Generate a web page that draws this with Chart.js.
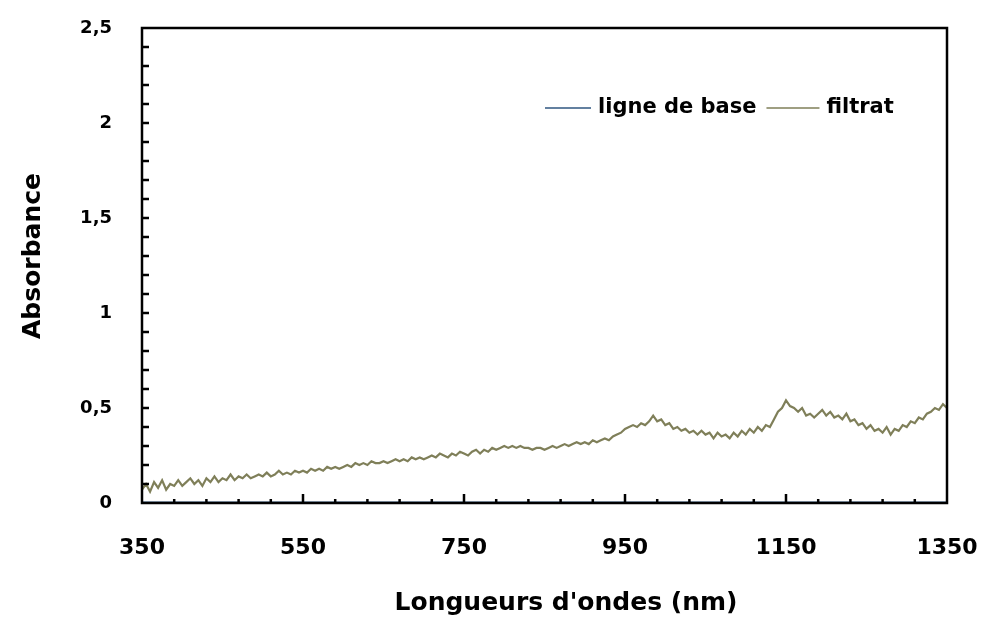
<!DOCTYPE html>
<html>
<head>
<meta charset="utf-8">
<script src="https://cdn.jsdelivr.net/npm/chart.js@4.4.1/dist/chart.umd.min.js"></script>
<style>
  html, body { margin: 0; padding: 0; background: #fff; }
  #wrap { position: relative; width: 982px; height: 617px; }
</style>
</head>
<body>
<div id="wrap"><canvas id="chart"></canvas></div>
<script>
// filtrat: absorbance every 5 nm from 350 to 1350 nm
const filtratStart = 350;
const filtratStep = 5;
const filtratValues = [
  0.07, 0.10, 0.06, 0.11, 0.08, 0.12, 0.07, 0.10, 0.09, 0.12,
  0.09, 0.11, 0.13, 0.10, 0.12, 0.09, 0.13, 0.11, 0.14, 0.11,
  0.13, 0.12, 0.15, 0.12, 0.14, 0.13, 0.15, 0.13, 0.14, 0.15,
  0.14, 0.16, 0.14, 0.15, 0.17, 0.15, 0.16, 0.15, 0.17, 0.16,
  0.17, 0.16, 0.18, 0.17, 0.18, 0.17, 0.19, 0.18, 0.19, 0.18,
  0.19, 0.20, 0.19, 0.21, 0.20, 0.21, 0.20, 0.22, 0.21, 0.21,
  0.22, 0.21, 0.22, 0.23, 0.22, 0.23, 0.22, 0.24, 0.23, 0.24,
  0.23, 0.24, 0.25, 0.24, 0.26, 0.25, 0.24, 0.26, 0.25, 0.27,
  0.26, 0.25, 0.27, 0.28, 0.26, 0.28, 0.27, 0.29, 0.28, 0.29,
  0.30, 0.29, 0.30, 0.29, 0.30, 0.29, 0.29, 0.28, 0.29, 0.29,
  0.28, 0.29, 0.30, 0.29, 0.30, 0.31, 0.30, 0.31, 0.32, 0.31,
  0.32, 0.31, 0.33, 0.32, 0.33, 0.34, 0.33, 0.35, 0.36, 0.37,
  0.39, 0.40, 0.41, 0.40, 0.42, 0.41, 0.43, 0.46, 0.43, 0.44,
  0.41, 0.42, 0.39, 0.40, 0.38, 0.39, 0.37, 0.38, 0.36, 0.38,
  0.36, 0.37, 0.34, 0.37, 0.35, 0.36, 0.34, 0.37, 0.35, 0.38,
  0.36, 0.39, 0.37, 0.40, 0.38, 0.41, 0.40, 0.44, 0.48, 0.50,
  0.54, 0.51, 0.50, 0.48, 0.50, 0.46, 0.47, 0.45, 0.47, 0.49,
  0.46, 0.48, 0.45, 0.46, 0.44, 0.47, 0.43, 0.44, 0.41, 0.42,
  0.39, 0.41, 0.38, 0.39, 0.37, 0.40, 0.36, 0.39, 0.38, 0.41,
  0.40, 0.43, 0.42, 0.45, 0.44, 0.47, 0.48, 0.50, 0.49, 0.52,
  0.50
];

// ligne de base: flat near zero
const baseWavelengths = [350, 450, 550, 650, 750, 850, 950, 1050, 1150, 1250, 1350];
const baseValues = [0.003, 0.003, 0.003, 0.003, 0.003, 0.003, 0.003, 0.003, 0.003, 0.003, 0.003];

const yTickValues = [0, 0.5, 1, 1.5, 2, 2.5];
const yMinorTicks = [0.1, 0.2, 0.3, 0.4, 0.6, 0.7, 0.8, 0.9, 1.1, 1.2, 1.3, 1.4, 1.6, 1.7, 1.8, 1.9, 2.1, 2.2, 2.3, 2.4];
const xTickValues = [350, 550, 750, 950, 1150, 1350];
const xMinorTicks = [390, 430, 470, 510, 590, 630, 670, 710, 790, 830, 870, 910, 990, 1030, 1070, 1110, 1190, 1230, 1270, 1310];

const xTitle = "Longueurs d'ondes (nm)";
const yTitle = 'Absorbance';

const filtratPoints = filtratValues.map((v, i) => ({ x: filtratStart + i * filtratStep, y: v }));
const basePoints = baseWavelengths.map((w, i) => ({ x: w, y: baseValues[i] }));

const FONT = '"DejaVu Sans", sans-serif';

const framePlugin = {
  id: 'frame',
  afterDraw(chart) {
    const { ctx, chartArea: a, scales: { x, y } } = chart;
    ctx.save();
    ctx.strokeStyle = '#000';
    ctx.lineWidth = 2.5;
    ctx.strokeRect(a.left, a.top, a.right - a.left, a.bottom - a.top);

    ctx.beginPath();
    yMinorTicks.concat(yTickValues.slice(1, -1)).forEach(v => {
      const p = y.getPixelForValue(v);
      ctx.moveTo(a.left, p);
      ctx.lineTo(a.left + 7, p);
    });
    xMinorTicks.forEach(v => {
      const p = x.getPixelForValue(v);
      ctx.moveTo(p, a.bottom);
      ctx.lineTo(p, a.bottom - 4);
    });
    xTickValues.slice(1, -1).forEach(v => {
      const p = x.getPixelForValue(v);
      ctx.moveTo(p, a.bottom);
      ctx.lineTo(p, a.bottom - 9);
    });
    ctx.stroke();

    // axis titles
    ctx.fillStyle = '#000';
    ctx.textAlign = 'center';
    ctx.textBaseline = 'middle';
    ctx.font = 'bold 25px ' + FONT;
    ctx.fillText(xTitle, 566, 603);
    ctx.save();
    ctx.translate(33, 256);
    ctx.rotate(-Math.PI / 2);
    ctx.fillText(yTitle, 0, 0);
    ctx.restore();

    // legend inside the plot, top right
    const lineLens = [46, 53];
    let lx = 545;
    const ly = 108;
    ctx.font = 'bold 21px ' + FONT;
    ctx.textAlign = 'left';
    chart.data.datasets.forEach((ds, i) => {
      ctx.strokeStyle = ds.borderColor;
      ctx.lineWidth = 1.5;
      ctx.beginPath();
      ctx.moveTo(lx, ly);
      ctx.lineTo(lx + lineLens[i], ly);
      ctx.stroke();
      ctx.fillText(ds.label, lx + lineLens[i] + 7, ly);
      lx += lineLens[i] + 7 + ctx.measureText(ds.label).width + 10;
    });
    ctx.restore();
  }
};

new Chart(document.getElementById('chart'), {
  type: 'line',
  data: {
    datasets: [
      {
        label: 'ligne de base',
        data: basePoints,
        borderColor: '#2f5680',
        borderWidth: 2,
        pointRadius: 0,
        tension: 0
      },
      {
        label: 'filtrat',
        data: filtratPoints,
        borderColor: '#7f7f59',
        borderWidth: 2.2,
        pointRadius: 0,
        tension: 0
      }
    ]
  },
  options: {
    responsive: true,
    maintainAspectRatio: false,
    animation: false,
    layout: { padding: { top: 28, right: 35, left: 0, bottom: 0 } },
    plugins: {
      legend: { display: false },
      tooltip: { enabled: false }
    },
    scales: {
      x: {
        type: 'linear',
        min: 350,
        max: 1350,
        afterBuildTicks(scale) { scale.ticks = xTickValues.map(v => ({ value: v })); },
        afterFit(scale) {
          scale.height = 114;
          scale.paddingLeft = 0;
          scale.paddingRight = 0;
        },
        ticks: {
          color: '#000',
          padding: 32,
          maxRotation: 0,
          callback: v => String(v),
          font: { family: FONT, size: 22, weight: 'bold' }
        },
        grid: { display: false, drawTicks: false },
        border: { display: false }
      },
      y: {
        min: 0,
        max: 2.5,
        afterBuildTicks(scale) { scale.ticks = yTickValues.map(v => ({ value: v })); },
        afterFit(scale) {
          scale.width = 142;
          scale.paddingTop = 0;
          scale.paddingBottom = 0;
        },
        ticks: {
          color: '#000',
          padding: 30,
          callback: v => String(v).replace('.', ','),
          font: { family: FONT, size: 18, weight: 'bold' }
        },
        grid: { display: false, drawTicks: false },
        border: { display: false }
      }
    }
  },
  plugins: [framePlugin]
});
</script>
</body>
</html>
